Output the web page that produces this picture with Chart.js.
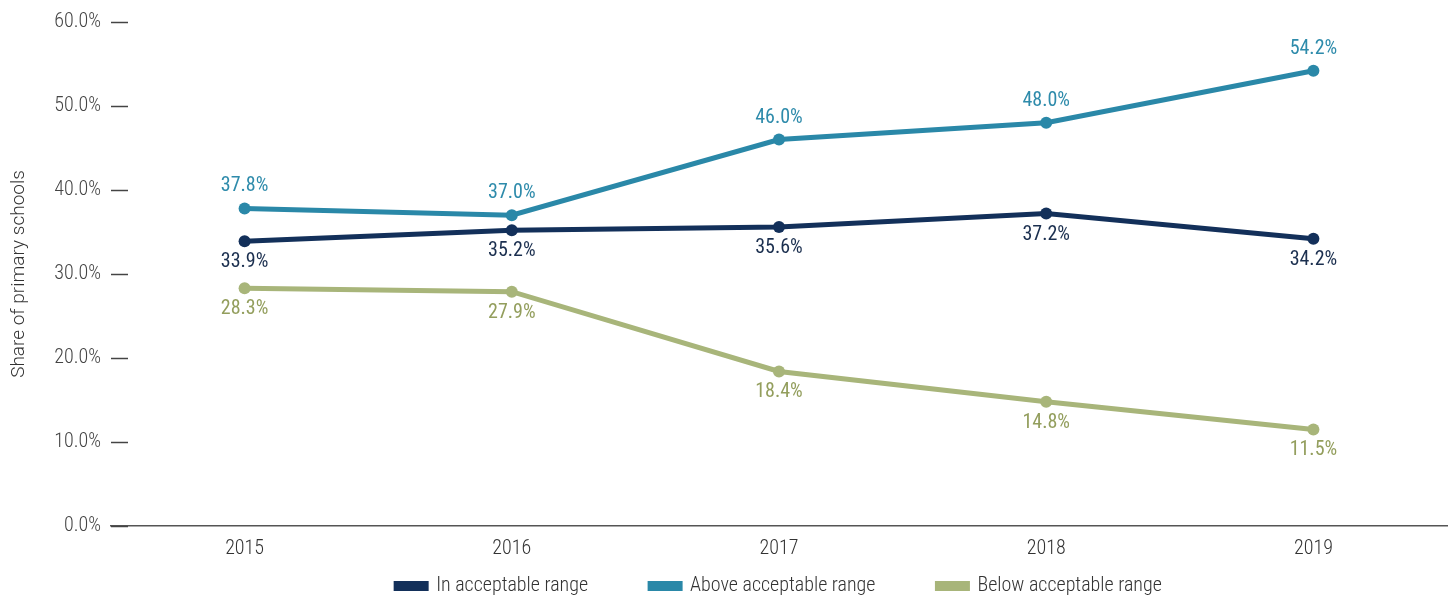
<!DOCTYPE html>
<html>
<head>
<meta charset="utf-8">
<script src="https://cdn.jsdelivr.net/npm/chart.js@4.4.1/dist/chart.umd.min.js"></script>
<style>
  html, body { margin: 0; padding: 0; background: #fff; overflow: hidden; }
</style>
</head>
<body>
<canvas id="chart" width="1448" height="598"></canvas>
<script>
// data
const years = ["2015", "2016", "2017", "2018", "2019"];
const inRange = [33.9, 35.2, 35.6, 37.2, 34.2];
const aboveRange = [37.8, 37.0, 46.0, 48.0, 54.2];
const belowRange = [28.3, 27.9, 18.4, 14.8, 11.5];
const seriesNames = ["In acceptable range", "Above acceptable range", "Below acceptable range"];

const FONT = "'Roboto Condensed', 'Roboto', sans-serif";
const navy = "#13305a";
const teal = "#2a88a8";
const olive = "#a8b57a";

// labels above or below each point
const labelPlugin = {
  id: "pointLabels",
  afterDatasetsDraw(chart) {
    const ctx = chart.ctx;
    ctx.save();
    ctx.font = "20px " + FONT;
    ctx.textAlign = "center";
    ctx.textBaseline = "middle";
    chart.data.datasets.forEach((ds, i) => {
      const meta = chart.getDatasetMeta(i);
      meta.data.forEach((pt, j) => {
        const dy = ds.labelPos === "above" ? -22 : 21;
        ctx.fillStyle = ds.labelColor;
        ctx.fillText(ds.data[j].toFixed(1) + "%", pt.x, pt.y + dy);
      });
    });
    ctx.restore();
  }
};

// short tick marks on the left edge of the plot
const tickMarks = {
  id: "tickMarks",
  afterDraw(chart) {
    const ctx = chart.ctx;
    const y = chart.scales.y;
    const left = chart.chartArea.left;
    ctx.save();
    ctx.strokeStyle = "#444";
    ctx.lineWidth = 1.5;
    y.ticks.forEach(t => {
      const py = Math.round(y.getPixelForValue(t.value)) + 0.5;
      ctx.beginPath();
      ctx.moveTo(left, py);
      ctx.lineTo(left + 17, py);
      ctx.stroke();
    });
    ctx.restore();
  }
};

// legend: wide gaps between items but a short box height
const legendFix = {
  id: "legendFix",
  beforeUpdate(chart) {
    const lg = chart.legend;
    if (!lg || lg._patched) return;
    lg._patched = true;
    const fit = lg.fit;
    lg.fit = function () {
      fit.call(this);
      this.height = 38;
    };
    const inner = lg._draw;
    lg._draw = function () {
      const ctx = this.ctx;
      ctx.save();
      ctx.translate(0, -(this.options.labels.padding - 16));
      inner.call(this);
      ctx.restore();
    };
  }
};

new Chart(document.getElementById("chart"), {
  type: "line",
  plugins: [labelPlugin, tickMarks, legendFix],
  data: {
    labels: years,
    datasets: [
      { label: seriesNames[0], data: inRange, borderColor: navy, backgroundColor: navy,
        labelColor: "#1b2f4f", labelPos: "below" },
      { label: seriesNames[1], data: aboveRange, borderColor: teal, backgroundColor: teal,
        labelColor: "#2e8bab", labelPos: "above" },
      { label: seriesNames[2], data: belowRange, borderColor: olive, backgroundColor: olive,
        labelColor: "#939e5d", labelPos: "below" }
    ]
  },
  options: {
    responsive: false,
    devicePixelRatio: 1,
    animation: false,
    layout: { autoPadding: false, padding: { top: 17, right: 1, left: 0, bottom: 0 } },
    elements: {
      line: { borderWidth: 5, tension: 0 },
      point: { radius: 6, hoverRadius: 6, borderWidth: 0 }
    },
    plugins: {
      tooltip: { enabled: false },
      legend: {
        position: "bottom",
        fullSize: false,
        labels: {
          font: { family: FONT, size: 20, weight: 300 },
          color: "#333",
          boxWidth: 30,
          boxHeight: 5,
          padding: 62
        }
      }
    },
    scales: {
      x: {
        offset: true,
        grid: { display: false, drawTicks: false },
        border: { display: true, color: "#555", width: 1.5 },
        ticks: { font: { family: FONT, size: 20, weight: 300 }, color: "#333", padding: 11 },
        afterFit(s) { s.height = 34; }
      },
      y: {
        min: 0,
        max: 60,
        ticks: {
          stepSize: 10,
          font: { family: FONT, size: 20, weight: 300 },
          color: "#444",
          padding: 10,
          callback: v => v.toFixed(1) + "%"
        },
        grid: { display: false, drawTicks: false },
        border: { display: false },
        title: {
          display: true,
          text: "Share of primary schools",
          font: { family: "Roboto, sans-serif", size: 19, weight: 300 },
          color: "#333",
          padding: { top: 8, bottom: 0 }
        },
        afterFit(s) { s.width = 111; }
      }
    }
  }
});
</script>
</body>
</html>
